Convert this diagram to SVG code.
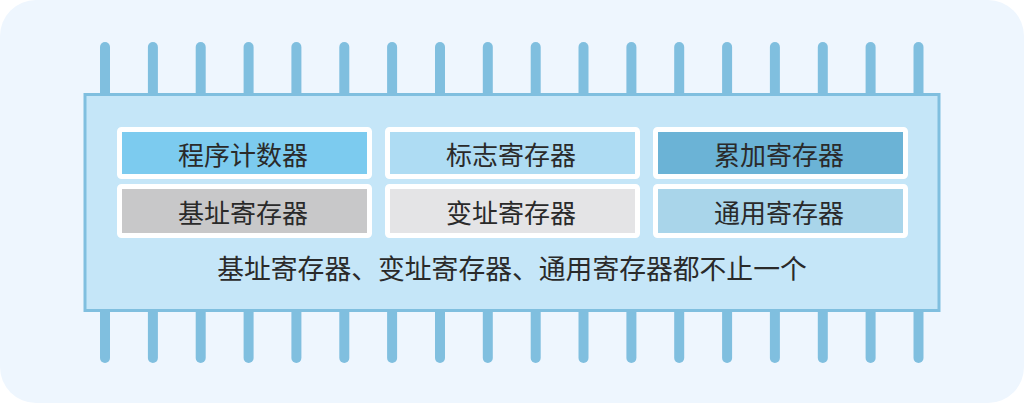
<svg xmlns="http://www.w3.org/2000/svg" width="1024" height="403" viewBox="0 0 1024 403">
<style>
.pin{stroke:#80bfdf;stroke-width:10;stroke-linecap:round;fill:none}
.reg{stroke:#ffffff;stroke-width:5}
.t{font-family:"Noto Sans CJK SC","Liberation Sans",sans-serif;font-size:26px;fill:#2a2a2a;text-anchor:middle;dominant-baseline:central}
</style>
<rect width="1024" height="403" fill="#ffffff"/>
<rect x="0" y="0" width="1024" height="403" rx="36" fill="#eef6fe"/>
<g id="pins">
<g id="top-pins">
<line class="pin" x1="105" y1="47" x2="105" y2="95"/>
<line class="pin" x1="152.9" y1="47" x2="152.9" y2="95"/>
<line class="pin" x1="200.7" y1="47" x2="200.7" y2="95"/>
<line class="pin" x1="248.6" y1="47" x2="248.6" y2="95"/>
<line class="pin" x1="296.4" y1="47" x2="296.4" y2="95"/>
<line class="pin" x1="344.3" y1="47" x2="344.3" y2="95"/>
<line class="pin" x1="392.1" y1="47" x2="392.1" y2="95"/>
<line class="pin" x1="440" y1="47" x2="440" y2="95"/>
<line class="pin" x1="487.8" y1="47" x2="487.8" y2="95"/>
<line class="pin" x1="535.7" y1="47" x2="535.7" y2="95"/>
<line class="pin" x1="583.5" y1="47" x2="583.5" y2="95"/>
<line class="pin" x1="631.4" y1="47" x2="631.4" y2="95"/>
<line class="pin" x1="679.2" y1="47" x2="679.2" y2="95"/>
<line class="pin" x1="727.1" y1="47" x2="727.1" y2="95"/>
<line class="pin" x1="774.9" y1="47" x2="774.9" y2="95"/>
<line class="pin" x1="822.8" y1="47" x2="822.8" y2="95"/>
<line class="pin" x1="870.6" y1="47" x2="870.6" y2="95"/>
<line class="pin" x1="918.5" y1="47" x2="918.5" y2="95"/>
</g>
<g id="bottom-pins">
<line class="pin" x1="105" y1="310" x2="105" y2="358"/>
<line class="pin" x1="152.9" y1="310" x2="152.9" y2="358"/>
<line class="pin" x1="200.7" y1="310" x2="200.7" y2="358"/>
<line class="pin" x1="248.6" y1="310" x2="248.6" y2="358"/>
<line class="pin" x1="296.4" y1="310" x2="296.4" y2="358"/>
<line class="pin" x1="344.3" y1="310" x2="344.3" y2="358"/>
<line class="pin" x1="392.1" y1="310" x2="392.1" y2="358"/>
<line class="pin" x1="440" y1="310" x2="440" y2="358"/>
<line class="pin" x1="487.8" y1="310" x2="487.8" y2="358"/>
<line class="pin" x1="535.7" y1="310" x2="535.7" y2="358"/>
<line class="pin" x1="583.5" y1="310" x2="583.5" y2="358"/>
<line class="pin" x1="631.4" y1="310" x2="631.4" y2="358"/>
<line class="pin" x1="679.2" y1="310" x2="679.2" y2="358"/>
<line class="pin" x1="727.1" y1="310" x2="727.1" y2="358"/>
<line class="pin" x1="774.9" y1="310" x2="774.9" y2="358"/>
<line class="pin" x1="822.8" y1="310" x2="822.8" y2="358"/>
<line class="pin" x1="870.6" y1="310" x2="870.6" y2="358"/>
<line class="pin" x1="918.5" y1="310" x2="918.5" y2="358"/>
</g>
</g>
<g id="chip">
<rect x="85" y="94.5" width="854" height="216" fill="#c5e6f8" stroke="#80bfdf" stroke-width="3"/>
</g>
<g id="pc">
<rect class="reg" x="119.5" y="129.5" width="250" height="47" rx="2" fill="#7ccbef"/>
<text class="t" x="243" y="153">程序计数器</text>
</g>
<g id="flag">
<rect class="reg" x="387.5" y="129.5" width="250" height="47" rx="2" fill="#aedcf3"/>
<text class="t" x="511" y="153">标志寄存器</text>
</g>
<g id="acc">
<rect class="reg" x="655.5" y="129.5" width="250" height="47" rx="2" fill="#6bb3d6"/>
<text class="t" x="779" y="153">累加寄存器</text>
</g>
<g id="base">
<rect class="reg" x="119.5" y="186.5" width="250" height="49" rx="2" fill="#c8c8c9"/>
<text class="t" x="243" y="211">基址寄存器</text>
</g>
<g id="var">
<rect class="reg" x="387.5" y="186.5" width="250" height="49" rx="2" fill="#e4e4e6"/>
<text class="t" x="511" y="211">变址寄存器</text>
</g>
<g id="general">
<rect class="reg" x="655.5" y="186.5" width="250" height="49" rx="2" fill="#a9d5ea"/>
<text class="t" x="779" y="211">通用寄存器</text>
</g>
<g id="note">
<text class="t" x="512" y="267" style="font-size:26.8px">基址寄存器、变址寄存器、通用寄存器都不止一个</text>
</g>
<g id="connectors"/>
</svg>
